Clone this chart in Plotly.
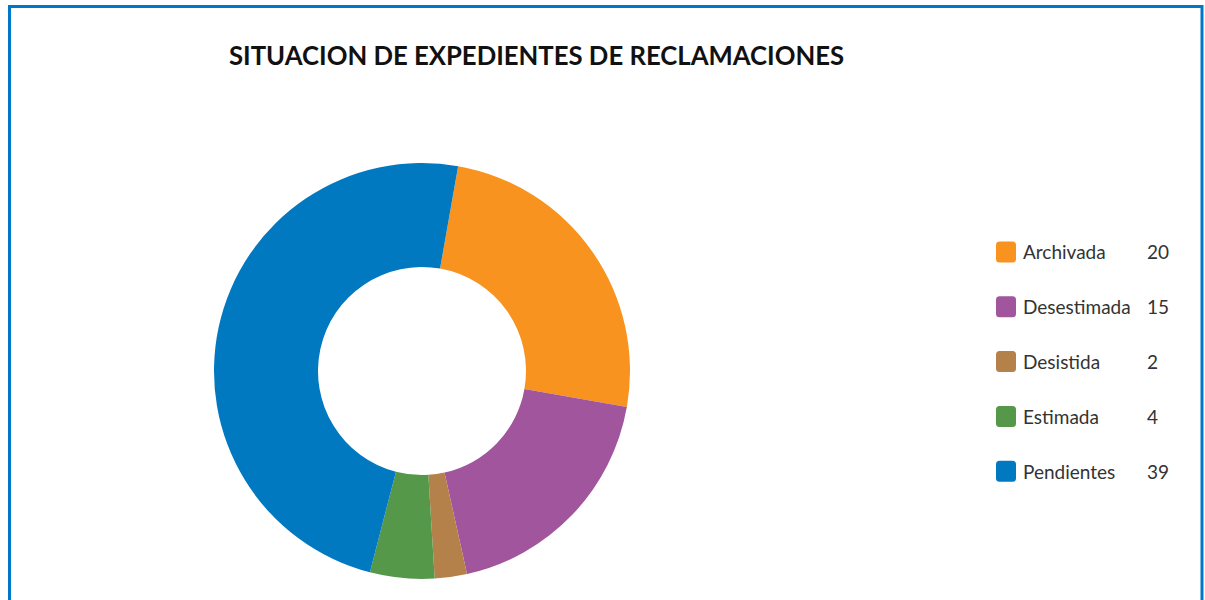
import plotly.graph_objects as go

# Data
labels = ['Archivada', 'Desestimada', 'Desistida', 'Estimada', 'Pendientes']
values = [20, 15, 2, 4, 39]
colors = ['#F7931E', '#A0559D', '#B5814B', '#55984A', '#0079C1']

title_text = 'SITUACION DE EXPEDIENTES DE RECLAMACIONES'

W, H = 1205, 600

fig = go.Figure()
fig.add_trace(go.Pie(
    labels=labels, values=values, hole=0.5, sort=False,
    direction='clockwise', rotation=10,
    marker=dict(colors=colors, line=dict(width=0)),
    textinfo='none', hoverinfo='label+value',
    domain=dict(x=[(422 - 208) / W, (422 + 208) / W],
                y=[1 - (371 + 208) / H, 1 - (371 - 208) / H]),
    showlegend=False,
))

# Custom legend: rounded swatch, label, value
shapes = []
annotations = []
row0, gap = 252, 54.8
for i, (lab, val, col) in enumerate(zip(labels, values, colors)):
    yc = row0 + i * gap
    x0, x1 = 996 / W, 1016 / W
    y0, y1 = 1 - (yc + 10.5) / H, 1 - (yc - 10.5) / H
    r = 3.5
    rx, ry = r / W, r / H
    path = (f'M {x0 + rx},{y0} L {x1 - rx},{y0} Q {x1},{y0} {x1},{y0 + ry} '
            f'L {x1},{y1 - ry} Q {x1},{y1} {x1 - rx},{y1} L {x0 + rx},{y1} '
            f'Q {x0},{y1} {x0},{y1 - ry} L {x0},{y0 + ry} Q {x0},{y0} {x0 + rx},{y0} Z')
    shapes.append(dict(type='path', xref='paper', yref='paper', path=path,
                       fillcolor=col, line=dict(width=0)))
    annotations.append(dict(x=1021 / W, y=1 - yc / H, xref='paper', yref='paper',
                            text=lab, showarrow=False, xanchor='left', yanchor='middle',
                            font=dict(family='Lato', size=19, color='#333333')))
    annotations.append(dict(x=1145 / W, y=1 - yc / H, xref='paper', yref='paper',
                            text=str(val), showarrow=False, xanchor='left', yanchor='middle',
                            font=dict(family='Lato', size=19, color='#333333')))

# Blue frame (bottom edge falls outside the view)
shapes.append(dict(type='rect', xref='paper', yref='paper',
                   x0=9.5 / W, x1=1202 / W, y0=-0.05, y1=1 - 6.5 / H,
                   line=dict(color='#0078C8', width=3), fillcolor='rgba(0,0,0,0)'))

fig.update_layout(
    width=W, height=H,
    margin=dict(l=0, r=0, t=0, b=0),
    paper_bgcolor='white', plot_bgcolor='white',
    title=dict(text='<b>' + title_text + '</b>', x=229 / W, xanchor='left',
               y=1 - 56 / H, yanchor='middle',
               font=dict(family='Lato', size=25.7, color='#111111')),
    shapes=shapes, annotations=annotations,
)

fig.write_html('out.html', config={'displayModeBar': False},
               post_script="document.body.style.margin='0';")
